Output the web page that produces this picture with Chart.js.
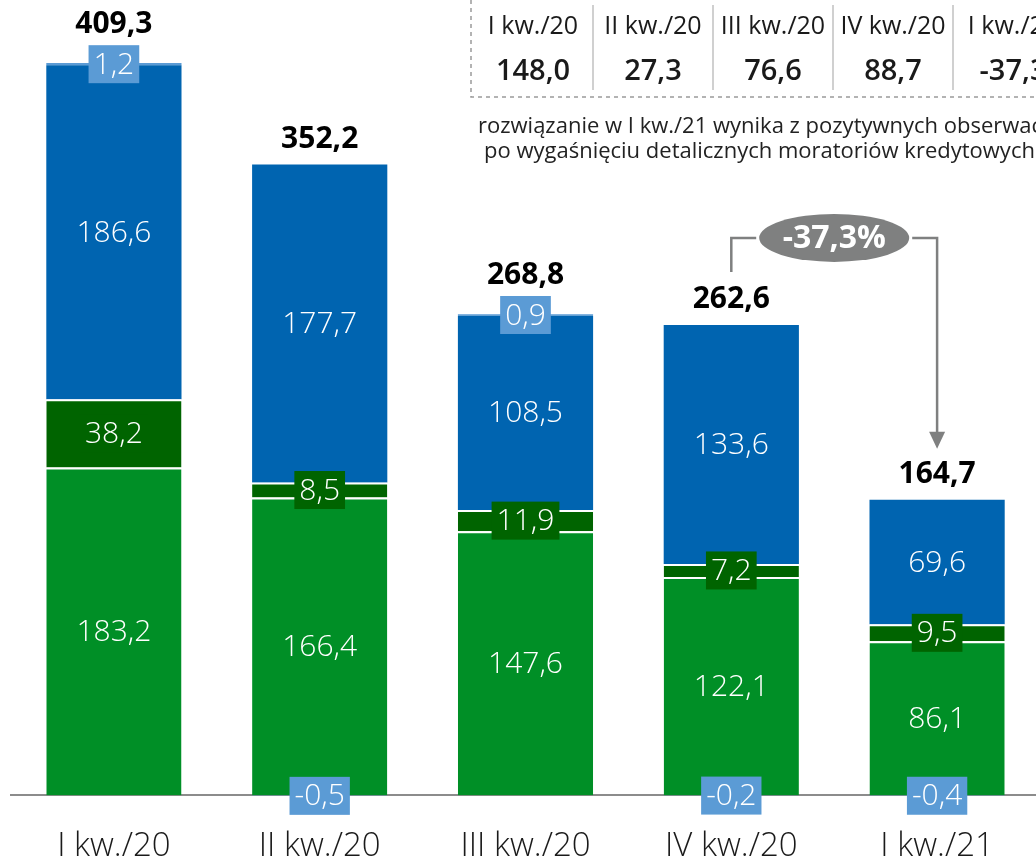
<!DOCTYPE html>
<html>
<head>
<meta charset="utf-8">
<script src="https://cdn.jsdelivr.net/npm/chart.js@4.4.1/dist/chart.umd.min.js"></script>
<style>
  html, body { margin: 0; padding: 0; overflow: hidden; background: #fff; }
  canvas { display: block; }
</style>
</head>
<body>
<canvas id="myChart" width="1040" height="889"></canvas>
<script>
// quarters on the x axis
const quarters = ['I kw./20', 'II kw./20', 'III kw./20', 'IV kw./20', 'I kw./21'];
// stacked parts, bottom to top
const greenValues = [183.2, 166.4, 147.6, 122.1, 86.1];
const darkGreenValues = [38.2, 8.5, 11.9, 7.2, 9.5];
const blueValues = [186.6, 177.7, 108.5, 133.6, 69.6];
const lightBlueValues = [1.2, -0.5, 0.9, -0.2, -0.4];
const totals = [409.3, 352.2, 268.8, 262.6, 164.7];
// small table top right
const tableHeaders = ['I kw./20', 'II kw./20', 'III kw./20', 'IV kw./20', 'I kw./21'];
const tableValues = [148.0, 27.3, 76.6, 88.7, -37.3];
const changeLabel = '-37,3%';
const noteLines = [
    'rozwiązanie w I kw./21 wynika z pozytywnych obserwacji',
    'po wygaśnięciu detalicznych moratoriów kredytowych'
];

const FONT = '"Open Sans", "Noto Sans", sans-serif';
const fmt = v => v.toFixed(1).replace('.', ',');

// values inside the bars + totals on top
const labelsPlugin = {
    id: 'labels',
    afterDatasetsDraw(chart) {
        const ctx = chart.ctx;
        ctx.save();
        ctx.textAlign = 'center';
        ctx.textBaseline = 'middle';
        chart.data.datasets.forEach((ds, di) => {
            const meta = chart.getDatasetMeta(di);
            meta.data.forEach((bar, i) => {
                const v = ds.data[i];
                const y = (bar.y + bar.base) / 2;
                const txt = fmt(v);
                ctx.font = '300 30px ' + FONT;
                if (ds.labelBox) {
                    const w = ctx.measureText(txt).width + 10;
                    ctx.fillStyle = ds.labelBox;
                    ctx.fillRect(bar.x - w / 2, y - 19, w, 38);
                }
                ctx.fillStyle = '#fff';
                ctx.fillText(txt, bar.x, y + 1);
            });
        });

        // totals
        ctx.font = 'bold 30px ' + FONT;
        ctx.fillStyle = '#000';
        totals.forEach((t, i) => {
            const top = stackTop(chart, i);
            const off = 25 + (lightBlueValues[i] > 0 ? 14 : 0);
            ctx.fillText(fmt(t), chart.getDatasetMeta(0).data[i].x, top - off);
        });
        ctx.restore();
    }
};

function stackTop(chart, i) {
    let top = Infinity;
    chart.data.datasets.forEach((ds, di) => {
        if (ds.data[i] > 0) top = Math.min(top, chart.getDatasetMeta(di).data[i].y);
    });
    return top;
}

// -37,3% bracket between IV kw./20 and I kw./21, table and note
const changePlugin = {
    id: 'change',
    afterDraw(chart) {
        const ctx = chart.ctx;
        const bars = chart.getDatasetMeta(0).data;
        const x1 = bars[3].x, x2 = bars[4].x;
        const top4 = stackTop(chart, 3), top5 = stackTop(chart, 4);
        const yb = top4 - 87;
        const cx = (x1 + x2) / 2, rx = 75, ry = 24;
        const tip = top5 - 51;
        ctx.save();
        ctx.strokeStyle = '#7f8080';
        ctx.fillStyle = '#7f8080';
        ctx.lineWidth = 2.5;
        ctx.beginPath();
        ctx.moveTo(x1, top4 - 53);
        ctx.lineTo(x1, yb);
        ctx.lineTo(cx - rx - 3, yb);
        ctx.moveTo(cx + rx + 3, yb);
        ctx.lineTo(x2, yb);
        ctx.lineTo(x2, tip - 15);
        ctx.stroke();
        ctx.beginPath();
        ctx.moveTo(x2 - 8, tip - 17);
        ctx.lineTo(x2 + 8, tip - 17);
        ctx.lineTo(x2, tip);
        ctx.closePath();
        ctx.fill();
        ctx.beginPath();
        ctx.ellipse(cx, yb, rx, ry, 0, 0, Math.PI * 2);
        ctx.fill();
        ctx.fillStyle = '#fff';
        ctx.font = 'bold 32px ' + FONT;
        ctx.textAlign = 'center';
        ctx.textBaseline = 'middle';
        ctx.fillText(changeLabel, cx, yb + 1);

        // table
        ctx.strokeStyle = '#9a9a9a';
        ctx.lineWidth = 1.5;
        ctx.setLineDash([4, 4]);
        ctx.beginPath();
        ctx.moveTo(471, 0);
        ctx.lineTo(471, 97);
        ctx.lineTo(1040, 97);
        ctx.stroke();
        ctx.setLineDash([]);
        ctx.strokeStyle = '#c0c0c0';
        ctx.fillStyle = '#1a1a1a';
        tableHeaders.forEach((h, i) => {
            const left = 473 + i * 120;
            if (i > 0) {
                ctx.beginPath();
                ctx.moveTo(left, 5);
                ctx.lineTo(left, 90);
                ctx.stroke();
            }
            ctx.font = '25px ' + FONT;
            ctx.fillText(h, left + 60, 27);
            ctx.font = '600 29px ' + FONT;
            ctx.fillText(fmt(tableValues[i]), left + 60, 72);
        });

        // note under the table
        ctx.font = '22px ' + FONT;
        ctx.textAlign = 'left';
        ctx.fillStyle = '#222';
        ctx.fillText(noteLines[0], 478, 127);
        ctx.fillText(noteLines[1], 484, 152);
        ctx.restore();
    }
};

const ctx = document.getElementById('myChart').getContext('2d');
const myChart = new Chart(ctx, {
    type: 'bar',
    data: {
        labels: quarters,
        datasets: [{
            data: greenValues,
            backgroundColor: '#008f26',
            borderColor: '#fff',
            borderWidth: { top: 2 },
            borderSkipped: 'start'
        }, {
            data: darkGreenValues,
            backgroundColor: '#006400',
            borderColor: '#fff',
            borderWidth: { top: 2 },
            borderSkipped: 'start',
            labelBox: '#006400'
        }, {
            data: blueValues,
            backgroundColor: '#0064b0',
            borderWidth: 0
        }, {
            data: lightBlueValues,
            backgroundColor: '#5b9bd5',
            borderWidth: 0,
            labelBox: '#5b9bd5'
        }]
    },
    options: {
        responsive: false,
        animation: false,
        events: [],
        layout: { padding: { left: 11, right: 0, top: 8, bottom: 0 } },
        datasets: { bar: { barPercentage: 0.657, categoryPercentage: 1 } },
        plugins: { legend: { display: false }, tooltip: { enabled: false } },
        scales: {
            x: {
                stacked: true,
                grid: { display: false },
                border: { display: true, color: '#8c8c8c', width: 2 },
                ticks: { color: '#1a1a1a', padding: 23, font: { family: FONT, size: 33, weight: 300 } }
            },
            y: {
                stacked: true,
                display: false,
                min: 0,
                max: 440
            }
        }
    },
    plugins: [labelsPlugin, changePlugin]
});
</script>
</body>
</html>
